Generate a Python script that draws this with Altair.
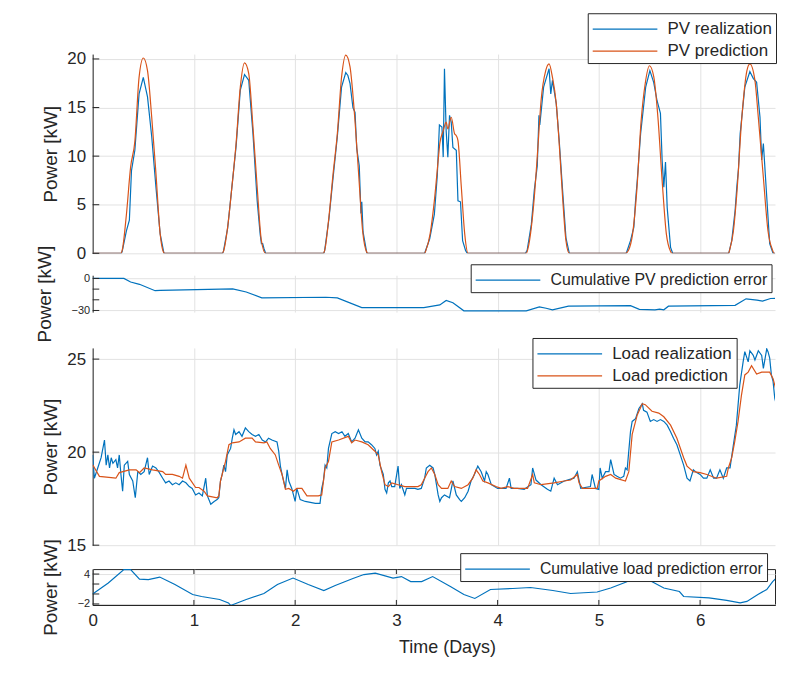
import altair as alt
import pandas as pd

# ---------------- data: (hour, kW) ----------------
pv_realization = [(0,0),(6.8,0),(7,0.2),(8,2.3),(8.7,3.4),(9.2,8.5),(10,10.6),(11,16.4),(12,18.1),(13,16.1),(14,12.0),(15,6.8),(16,2.0),(16.9,0),
    (30.8,0),(31,0.2),(32,2.6),(33,6.8),(34,11.0),(35,16.8),(36,18.4),(37,17.8),(38,12.3),(39,5.4),(39.7,2.0),(40.0,1.0),(40.3,1.0),(40.6,0.5),(41,0),
    (54.8,0),(55,0.3),(56,3.5),(57,7.8),(58,12.0),(59,17.1),(60,18.6),(60.5,18.3),(61,17.5),(61.7,15.0),(62.2,14.5),(62.6,10.8),(63.2,9.0),(63.6,4.1),(63.8,5.3),(64.1,2.2),(65,0),
    (78.7,0),(79.9,1.5),(81.0,4.0),(81.7,8.0),(82.2,13.2),(82.8,13.0),(83.1,9.9),(83.4,19.0),(83.8,12.6),(84.2,9.9),(84.6,14.2),(85.0,13.5),(85.4,10.9),(86.2,10.6),(86.6,5.4),(87.2,5.3),(87.7,1.3),(88.4,0.3),(88.8,0),
    (102.6,0),(103,0.3),(104,3.0),(104.7,6.5),(105.4,9.0),(105.8,14.2),(106.0,13.2),(106.9,17.1),(108.2,19.0),(108.6,16.4),(109.0,17.8),(109.9,15.4),(110.6,11.6),(111.4,6.5),(112.2,1.6),(113,0),
    (126.5,0),(127.5,1.3),(128.3,2.7),(128.7,5.4),(129.1,7.5),(129.9,12.3),(131.1,17.1),(132.1,18.8),(133.0,17.6),(133.8,15.7),(134.6,14.4),(135.0,9.6),(135.4,6.8),(135.8,9.4),(136.2,4.7),(137.0,0.6),(137.5,0),
    (150.8,0),(151.5,1.3),(152.3,4.4),(152.7,6.8),(153.1,8.7),(153.5,12.3),(154.6,17.1),(155.8,18.7),(156.6,18.0),(157.4,17.6),(158.2,14.0),(158.6,9.6),(159.0,11.3),(159.8,5.8),(160.5,1.0),(161.3,0),(168,0)]

pv_prediction = [(0,0),(6.7,0),(7,0.3),(8,4.0),(9,8.9),(10,11.5),(11,18.1),(12,20.1),(13,18.8),(14,14.0),(15,8.2),(16,2.0),(16.8,0.1),(17,0),
    (30.7,0),(31,0.2),(32,2.7),(33,6.8),(34,11.3),(35,17.1),(36,19.6),(37,18.5),(38,13.0),(39,6.8),(40,1.3),(41,0),
    (54.7,0),(55,0.3),(56,3.7),(57,8.2),(58,12.3),(59,18.1),(60,20.4),(61,19.2),(62,14.7),(63,8.5),(64,2.3),(65,0.1),(65.2,0),
    (78.7,0),(79,0.3),(80,2.0),(81,5.4),(82,10.0),(82.3,11.3),(83.1,12.6),(83.8,13.5),(84.2,12.8),(85.0,14.0),(85.8,12.3),(86.2,12.1),(86.6,11.6),(87.4,6.8),(88.2,2.0),(89,0),
    (102.8,0),(103.2,0.5),(104,2.7),(104.7,5.8),(105.5,10.6),(106.3,15.7),(107.4,18.8),(108.2,19.5),(109,18.1),(109.9,15.4),(110.6,11.3),(111.4,5.8),(112.2,1.3),(113,0),
    (126.3,0),(127,0.3),(128,2.0),(129,6.5),(130,13.5),(131,17.5),(132,19.3),(133,18.2),(134,14.0),(135,7.5),(136,2.0),(137,0.2),(137.3,0),
    (150.7,0),(151.1,0.5),(151.9,2.3),(152.7,6.1),(153.9,14.0),(155.1,18.8),(155.8,19.5),(157.0,17.8),(157.8,14.0),(159.0,7.8),(160.1,2.3),(161.2,0.3),(161.5,0),(168,0)]

pv_cum_error = [(0,0),(7.4,0),(9.0,-3.3),(11.1,-5.5),(14.8,-11.5),(16,-11.2),(33.2,-9.7),(36.4,-12.7),(40.1,-18.2),(55.3,-17.6),(58,-18.2),
    (63.8,-27.3),(78.5,-27.3),(82.3,-24.8),(83.8,-20.6),(85.4,-22.7),(88,-30.3),(102.8,-30.3),(105.9,-26.6),(107.5,-27.9),(109,-29.4),
    (112.8,-26.0),(127.5,-25.5),(129.6,-28.9),(133.3,-29.4),(134.4,-28.8),(135.4,-29.4),(136.5,-26.0),(152.3,-25.2),(154.9,-19.1),
    (157.5,-20.3),(158.8,-21.2),(160.7,-18.8),(163.7,-18.5),(168,-18.5)]

load_realization = [(0.0,19.85),(0.4,18.6),(1.2,19.15),(2.0,19.7),(2.8,20.65),(3.2,19.3),(3.6,19.85),(4.0,19.15),(4.4,19.7),(4.8,19.4),(5.5,19.6),(5.9,19.15),(6.3,19.85),(6.7,18.8),(7.1,17.9),(7.5,19.3),(8.3,19.5),(8.7,18.8),(9.5,18.45),(10.1,17.55),(10.7,18.95),(11.4,18.8),(12.2,18.95),(13.0,19.7),(13.4,18.8),(14.2,19.25),(15.0,19.15),(15.8,18.9),(16.6,18.6),(17.3,18.35),(18.1,18.45),(18.9,18.25),(19.7,18.35),(20.5,18.25),(21.3,18.45),(22.1,18.35),(22.9,18.15),(23.6,18.05),
    (24.4,17.7),(25.2,17.8),(26.0,17.65),(26.8,18.6),(27.2,17.65),(28.0,17.2),(28.8,17.35),(29.5,17.45),(29.9,17.55),(30.3,18.45),(30.7,18.8),(31.1,19.3),(31.5,18.95),(31.9,19.85),(32.7,20.2),(33.1,20.75),(33.5,21.2),(33.9,20.95),(34.7,21.1),(35.4,20.85),(36.2,21.3),(37.0,21.1),(37.8,20.95),(38.6,20.85),(39.4,20.95),(40.2,20.65),(41.0,20.55),(41.7,20.75),(42.5,20.65),(43.7,20.55),(44.1,20.05),(44.5,19.25),(44.9,18.8),(45.7,18.05),(46.1,19.05),(46.5,18.45),(47.2,18.05),
    (48.0,17.35),(48.4,18.05),(49.2,17.45),(50.4,17.35),(52.8,17.25),(53.9,17.25),(54.3,18.05),(54.7,18.45),(55.1,19.3),(55.5,19.15),(55.9,20.2),(56.7,21.0),(57.5,21.1),(58.3,21.0),(59.1,21.1),(59.8,20.85),(60.6,21.0),(61.4,20.55),(62.2,20.75),(63.0,21.2),(63.8,20.75),(64.6,20.55),(65.3,20.55),(66.1,20.4),(66.9,20.2),(67.3,19.85),(67.7,20.05),(68.1,19.3),(68.5,19.05),(68.9,18.8),(69.3,18.0),(69.7,17.8),(70.1,18.35),(70.5,18.45),(70.9,18.15),(71.6,18.15),
    (72.4,19.25),(72.8,18.05),(73.2,18.25),(74.0,17.7),(74.4,18.05),(75.2,18.05),(76.4,18.05),(77.1,18.0),(77.9,18.05),(78.7,18.6),(79.1,19.15),(79.9,19.3),(80.7,19.15),(81.1,18.8),(81.9,17.7),(82.3,17.35),(82.7,17.55),(83.4,17.7),(84.6,17.55),(85.4,18.45),(86.2,17.7),(87.0,17.45),(87.4,17.35),(88.2,17.55),(89.0,17.9),(89.7,18.45),(90.5,18.8),(91.3,19.25),(92.1,18.95),(92.9,18.45),(93.3,18.95),(93.7,18.8),(94.5,18.25),
    (96.0,18.05),(98.0,18.05),(98.8,18.6),(99.2,18.05),(100.7,18.05),(102.3,18.0),(103.9,18.25),(104.3,19.15),(105.1,18.5),(106.3,18.25),(107.8,18.0),(108.6,17.9),(109.4,18.6),(110.2,18.25),(111.8,18.45),(114.1,18.6),(114.9,18.95),(115.7,18.05),(118.0,18.15),(118.4,18.8),(119.2,18.05),
    (120.0,18.0),(120.3,19.15),(120.8,18.6),(121.6,18.95),(122.4,18.95),(122.8,19.6),(123.6,18.8),(124.3,18.7),(125.1,18.6),(125.9,18.7),(126.3,19.15),(126.7,19.05),(127.5,21.1),(127.9,21.65),(128.7,21.8),(129.5,22.35),(130.3,22.6),(130.6,22.25),(131.4,22.15),(132.2,21.65),(133.0,21.75),(133.8,21.65),(134.6,21.75),(135.4,21.65),(136.2,21.45),(137.0,21.1),(137.7,20.75),(138.5,20.4),(139.3,19.85),(140.1,19.3),(140.9,18.6),(141.6,18.45),(142.4,19.05),(143.2,18.9),
    (144.0,18.8),(144.8,18.6),(145.6,18.6),(146.4,19.05),(147.2,18.6),(147.9,18.6),(148.7,19.05),(149.5,18.6),(150.3,19.15),(151.1,19.15),(151.9,20.4),(152.6,21.45),(153.4,23.6),(154.2,24.85),(154.6,25.4),(155.4,24.85),(155.8,25.45),(156.6,25.2),(157.0,24.95),(157.8,25.45),(158.6,25.2),(159.0,24.5),(159.8,25.55),(160.1,25.4),(160.5,25.05),(160.9,24.15),(161.3,23.8),(161.7,22.9),(162.5,22.15),(163.3,22.0),(163.7,21.65),(165.0,21.5),(168.0,21.3)]

load_prediction = [(0.0,19.32),(1.6,18.7),(5.5,18.6),(6.3,18.9),(8.7,19.05),(10.3,19.05),(11.1,18.9),(12.2,19.15),(14.2,19.05),(16.6,18.95),(17.3,18.8),(18.9,18.8),(20.5,18.7),(21.3,18.6),(22.1,19.3),(22.9,18.6),
    (24.4,18.1),(25.2,18.1),(26.4,17.9),(27.2,17.65),(29.5,17.55),(29.9,17.65),(30.3,18.45),(31.1,19.15),(31.5,19.5),(32.3,20.4),(33.1,20.5),(34.7,20.55),(36.2,20.75),(37.8,20.75),(38.6,20.55),(40.6,20.5),(41.3,20.55),(42.1,20.2),(43.3,19.85),(44.1,19.3),(44.9,18.8),(45.7,18.0),(46.5,18.05),(47.6,17.9),
    (48.4,18.05),(49.6,18.05),(50.8,17.65),(53.5,17.65),(54.3,17.7),(55.1,19.15),(55.9,19.5),(56.7,20.55),(58.3,20.65),(60.6,20.85),(61.4,20.5),(62.2,20.65),(63.8,20.55),(65.3,20.4),(66.9,20.05),(67.7,19.85),(68.5,18.95),(69.3,18.25),(70.1,18.15),(70.9,18.35),
    (72.4,18.25),(74.0,18.15),(77.1,18.15),(77.9,18.25),(78.7,18.6),(79.5,18.95),(80.3,19.15),(81.1,18.8),(81.9,18.25),(82.7,18.05),(84.2,18.05),(85.0,18.45),(85.8,18.15),(87.4,18.05),(89.0,18.25),(90.1,18.6),(90.9,19.05),(91.7,18.8),(92.5,18.45),(93.7,18.35),(95.6,18.15),
    (96.8,18.05),(98.4,18.15),(99.9,18.05),(103.1,18.05),(104.3,18.8),(104.7,18.35),(106.3,18.25),(109.4,18.35),(111.8,18.45),(113.3,18.5),(114.9,18.8),(115.3,18.35),(116.1,18.05),(119.6,18.05),
    (120.0,18.45),(121.6,18.7),(122.8,18.8),(124.0,18.6),(126.3,18.45),(127.1,18.95),(127.9,20.95),(129.1,22.0),(130.3,22.6),(131.0,22.55),(132.6,22.2),(134.2,22.1),(135.4,21.9),(137.0,21.45),(138.5,20.75),(140.1,19.7),(140.9,19.25),(142.4,18.95),
    (144.0,18.9),(145.6,18.8),(147.9,18.6),(150.3,18.7),(150.7,19.15),(151.5,19.7),(152.2,20.55),(153.0,21.65),(153.8,23.05),(154.6,24.15),(155.4,24.3),(156.2,24.65),(157.4,24.2),(158.6,24.3),(160.5,24.3),(161.3,23.95),(162.1,23.25),(162.9,22.15),(163.7,21.65),(165.5,21.2),(168.0,21.0)]

load_cum_error = [(0,0.0),(3.7,2.2),(7.4,4.9),(9.0,4.9),(11.1,3.0),(13.2,2.9),(15.9,3.4),(19.5,1.9),(23.7,-0.1),(25.8,-0.5),(30.1,-1.1),(32.2,-1.8),(32.7,-2.3),
    (36.4,-1.1),(40.6,0.1),(43.8,1.9),(47.5,3.2),(51.1,1.9),(54.8,0.7),(57.5,1.7),(61.7,3.1),(64.3,3.9),(67,4.2),(71.2,3.2),(73.2,3.5),(75.4,2.5),(78,2.5),
    (80.6,3.5),(84.8,1.5),(88,-0.1),(90.6,-0.9),(94.3,0.9),(99.6,1.1),(103.8,1.3),(109.1,0.7),(113.3,0.1),(119.6,0.4),(122.8,1.2),(126.5,2.4),(129.5,3.6),
    (131,3.4),(132.3,2.6),(135.4,1.2),(139.1,0.5),(140.1,-0.5),(146.1,-0.8),(150.3,-1.3),(153.5,-1.8),(155.1,-1.5),(157.7,-0.1),(159.8,0.9),(161.2,2.5),(163.7,4.5),(168,5.0)]

day_ticks = [0, 1, 2, 3, 4, 5, 6]
pv_ticks = [0, 5, 10, 15, 20]
pv_err_ticks = [-30, -20, -10, 0]
load_ticks = [15, 20, 25]
load_err_ticks = [-2, 0, 2, 4]

# ---------------- styling ----------------
BLUE, ORANGE = "#0072BD", "#D95319"
INK, GRID = "#262626", "#e2e2e2"
FONT = "Liberation Sans"
DAYS_SHOWN = 6.74
W = 685


def frame(pairs, name):
    return pd.DataFrame({"t": [h / 24 for h, _ in pairs], "v": [v for _, v in pairs], "s": name})


XSCALE = alt.Scale(domain=[0, DAYS_SHOWN], nice=False, zero=False)


def x_enc(bottom):
    if bottom:
        ax = alt.Axis(values=day_ticks, format="d", title="Time (Days)", grid=True, gridColor=GRID, ticks=False,
                      domain=True, domainColor=INK, labelFont=FONT, titleFont=FONT, labelFontSize=17,
                      titleFontSize=18, labelColor=INK, titleColor=INK, titleFontWeight="normal",
                      labelFlush=False, labelPadding=8, titlePadding=10, titleX=(7 / DAYS_SHOWN) * W / 2)
    else:
        ax = alt.Axis(values=day_ticks, title=None, grid=True, gridColor=GRID, labels=False,
                      ticks=False, domain=False)
    return alt.X("t:Q", scale=XSCALE, axis=ax)


def y_enc(domain, ticks, small):
    ax = alt.Axis(values=ticks, format="d", title="Power [kW]", grid=True, gridColor=GRID, ticks=False,
                  domainColor=INK, labelFont=FONT, titleFont=FONT,
                  labelFontSize=11 if small else 17, titleFontSize=19, labelColor=INK,
                  titleColor=INK, titleFontWeight="normal", labelOverlap=False,
                  labelPadding=3 if small else 7, titlePadding=17 if small else 6, labelBound=False)
    return alt.Y("v:Q", scale=alt.Scale(domain=domain, nice=False, zero=False), axis=ax)


def legend(lx, ly, size=17):
    return alt.Legend(orient="none", legendX=lx, legendY=ly, title=None, symbolType="M-1,0H4.9",
                      symbolSize=484, symbolStrokeWidth=1.3, labelFont=FONT, labelFontSize=size,
                      labelColor=INK, strokeColor=INK, fillColor="white", padding=4, rowPadding=2,
                      labelOffset=52, labelLimit=600)


def panel(series, names, colors, ydomain, yticks, small, leg, height, bottom=False, box=False):
    color = alt.Color("s:N", scale=alt.Scale(domain=names, range=colors), legend=legend(*leg))
    layers = []
    for df, interp in series:
        layers.append(alt.Chart(df).mark_line(clip=True, strokeWidth=1.2, interpolate=interp).encode(
            x=x_enc(bottom), y=y_enc(ydomain, yticks, small), color=color))
    tk = pd.DataFrame({"v": yticks})
    layers.append(alt.Chart(tk).mark_rule(color=INK, strokeWidth=1).encode(
        x=alt.datum(0), x2=alt.datum(0.065), y="v:Q"))
    if box:
        xt = pd.DataFrame({"t": day_ticks[1:]})
        span = ydomain[1] - ydomain[0]
        tick_len = span * 5 / height
        layers.append(alt.Chart(xt).mark_rule(color=INK, strokeWidth=1).encode(
            x="t:Q", y=alt.datum(ydomain[0]), y2=alt.datum(ydomain[0] + tick_len)))
        layers.append(alt.Chart(xt).mark_rule(color=INK, strokeWidth=1).encode(
            x="t:Q", y=alt.datum(ydomain[1]), y2=alt.datum(ydomain[1] - tick_len)))
    ch = alt.layer(*layers).properties(width=W, height=height)
    if box:
        ch = ch.properties(view=alt.ViewBackground(stroke=INK, strokeWidth=1))
    return ch


def spacer(h):
    d = pd.DataFrame({"t": [0.0], "v": [0.0]})
    return alt.Chart(d).mark_point(opacity=0).encode(
        x=alt.X("t:Q", axis=None, scale=XSCALE), y=alt.Y("v:Q", axis=None)).properties(width=W, height=h)


p1 = panel([(frame(pv_realization, "PV realization"), "linear"),
            (frame(pv_prediction, "PV prediction"), "monotone")],
           ["PV realization", "PV prediction"], [BLUE, ORANGE],
           [0, 20.5], pv_ticks, False, (497, -41), 200)
p2 = panel([(frame(pv_cum_error, "Cumulative PV prediction error"), "linear")],
           ["Cumulative PV prediction error"], [BLUE],
           [-31.5, 3], pv_err_ticks, True, (379.5, -11, 16), 37)
p3 = panel([(frame(load_realization, "Load realization"), "linear"),
            (frame(load_prediction, "Load prediction"), "linear")],
           ["Load realization", "Load prediction"], [BLUE, ORANGE],
           [15, 25.6], load_ticks, False, (441.5, -10), 198)
p4 = panel([(frame(load_cum_error, "Cumulative load prediction error"), "linear")],
           ["Cumulative load prediction error"], [BLUE],
           [-2.2, 5], load_err_ticks, True, (369, -16, 15.8), 36, bottom=True, box=True)

chart = alt.vconcat(p1, spacer(1), p2, spacer(15), p3, spacer(3), p4, spacing=10.5, bounds="flush").resolve_scale(
    color="independent", y="independent", x="independent").resolve_legend(color="independent").properties(
    padding={"left": 27, "top": 3, "right": 0, "bottom": 0}, background="white"
).configure_view(stroke=None)

chart.save("out.html", embed_options={"renderer": "svg", "actions": False})
